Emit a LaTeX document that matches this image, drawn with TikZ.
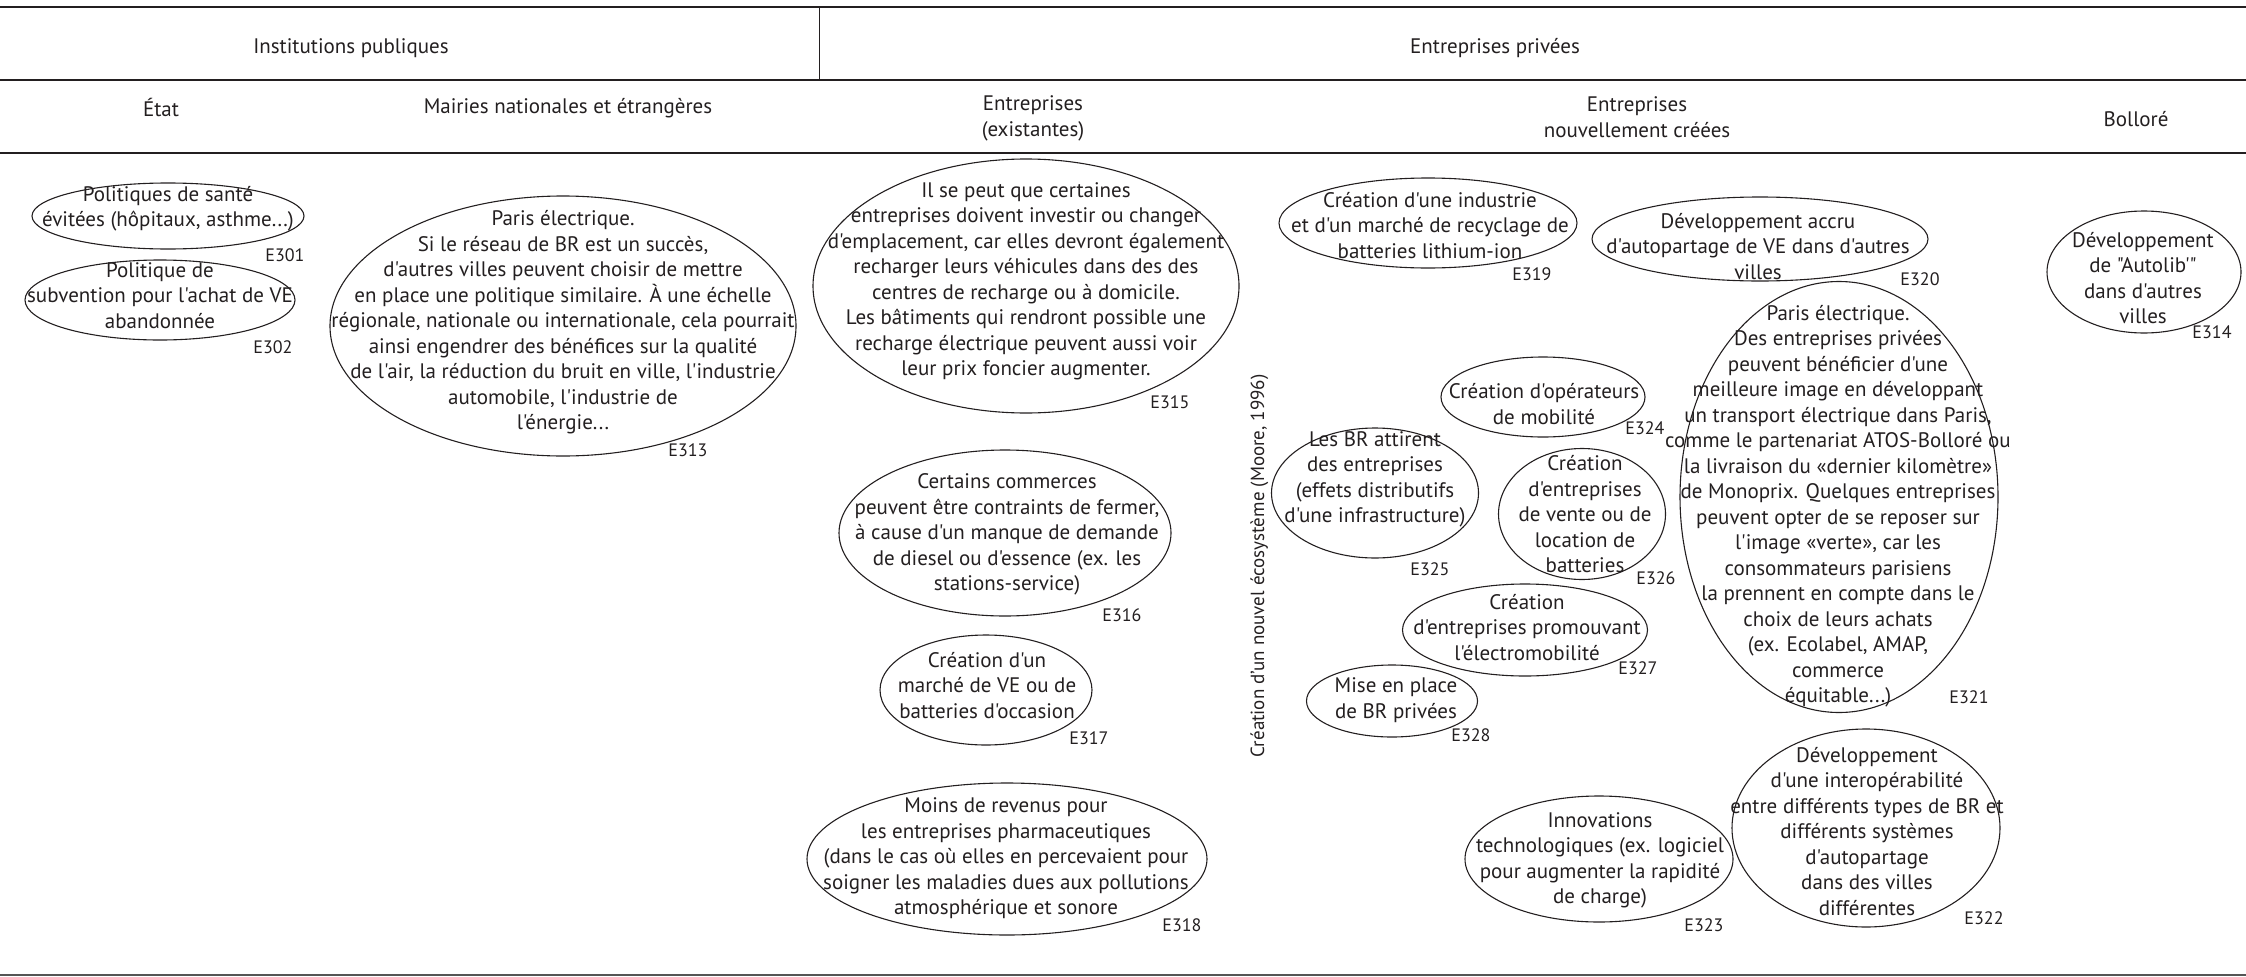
\documentclass[tikz,border=0pt]{standalone}
\usepackage{fontspec}
\setmainfont{PT Sans}[Ligatures=TeXOff]
\usetikzlibrary{shapes.geometric}
\definecolor{ink}{HTML}{231F20}
\definecolor{rulegray}{HTML}{555555}
\newcommand\ellnode[5]{\node[ell,minimum width=#4pt,minimum height=#5pt] (#1) at (#2,#3) {};}
\begin{document}
\begin{tikzpicture}[x=1pt,y=-1pt,
  ell/.style={draw=ink, line width=1.1pt, ellipse, inner sep=0pt},
  txt/.style={font=\fontsize{21}{25.5}\selectfont, text=ink, align=center, inner sep=0pt,
    execute at begin node=\strut, execute at end node=\strut},
  vtxt/.style={font=\fontsize{19}{25.5}\selectfont},
  lab/.style={font=\fontsize{18}{20}\selectfont, text=ink, inner sep=0pt},
  hrule/.style={draw=ink, line width=1.8pt},
  vrule/.style={draw=ink, line width=1pt},
  brule/.style={draw=rulegray, line width=1.4pt}]
\useasboundingbox (0,0) rectangle (2246,977);
% rules
\coordinate (r1a) at (0,7);   \coordinate (r1b) at (2246,7);
\coordinate (r2a) at (0,80);  \coordinate (r2b) at (2246,80);
\coordinate (r3a) at (0,153); \coordinate (r3b) at (2246,153);
\coordinate (r4a) at (0,975); \coordinate (r4b) at (2246,975);
\coordinate (va) at (819,7);  \coordinate (vb) at (819,80);
\draw[hrule] (r1a) -- (r1b);
\draw[hrule] (r2a) -- (r2b);
\draw[hrule] (r3a) -- (r3b);
\draw[brule] (r4a) -- (r4b);
\draw[vrule] (va) -- (vb);
% headers
\node[txt] (hpub) at (351,48) {Institutions publiques};
\node[txt] (hpriv) at (1495,48) {Entreprises privées};
\node[txt] (hetat) at (161,111) {État};
\node[txt] (hmair) at (568,108) {Mairies nationales et étrangères};
\node[txt] (hexist) at (1033,120) {Entreprises\\(existantes)};
\node[txt] (hnouv) at (1637,121) {Entreprises\\nouvellement créées};
\node[txt] (hboll) at (2136,121) {Bolloré};
% vertical text
\node[txt, vtxt, rotate=90] (eco) at (1259,566) {Création d’un nouvel écosystème (Moore, 1996)};
% ellipses
\ellnode{e301}{168}{216}{272}{66}
\ellnode{e302}{160}{300}{270}{80}
\ellnode{e313}{563}{326}{466}{260}
\ellnode{e315}{1026}{286}{426}{254}
\ellnode{e316}{1005}{533}{332}{166}
\ellnode{e317}{986}{690}{212}{110}
\ellnode{e318}{1007}{859}{400}{152}
\ellnode{e319}{1428}{223}{298}{90}
\ellnode{e320}{1760}{239}{336}{84}
\ellnode{e314}{2144}{272}{194}{122}
\ellnode{e321}{1839}{497}{318}{431}
\ellnode{e322}{1866}{828}{268}{198}
\ellnode{e323}{1599}{859}{268}{126}
\ellnode{e324}{1543}{397}{204}{80}
\ellnode{e325}{1375}{493}{207}{130}
\ellnode{e326}{1582}{514}{167}{131}
\ellnode{e327}{1525}{630}{245}{92}
\ellnode{e328}{1392}{701}{171}{72}
% ellipse texts
\node[txt] (t301) at (168,210.5) {Politiques de santé\\évitées (hôpitaux, asthme...)};
\node[txt] (t302) at (160,299) {Politique de\\subvention pour l'achat de VE\\abandonnée};
\node[txt] (t313) at (563,324) {Paris électrique.\\Si le réseau de BR est un succès,\\d'autres villes peuvent choisir de mettre\\en place une politique similaire. À une échelle\\régionale, nationale ou internationale, cela pourrait\\ainsi engendrer des bénéfices sur la qualité\\de l'air, la réduction du bruit en ville, l'industrie\\automobile, l'industrie de\\l'énergie...};
\node[txt] (t315) at (1026,283) {Il se peut que certaines\\entreprises doivent investir ou changer\\d'emplacement, car elles devront également\\recharger leurs véhicules dans des des\\centres de recharge ou à domicile.\\Les bâtiments qui rendront possible une\\recharge électrique peuvent aussi voir\\leur prix foncier augmenter.};
\node[txt] (t316) at (1007,536) {Certains commerces\\peuvent être contraints de fermer,\\à cause d'un manque de demande\\de diesel ou d'essence (ex. les\\stations-service)};
\node[txt] (t317) at (987,689) {Création d'un\\marché de VE ou de\\batteries d'occasion};
\node[txt] (t318) at (1006,860) {Moins de revenus pour\\les entreprises pharmaceutiques\\(dans le cas où elles en percevaient pour\\soigner les maladies dues aux pollutions\\atmosphérique et sonore};
\node[txt] (t319) at (1430,229) {Création d'une industrie\\et d'un marché de recyclage de\\batteries lithium-ion};
\node[txt] (t320) at (1758,250) {Développement accru\\d'autopartage de VE dans d'autres\\villes};
\node[txt] (t314) at (2143,282) {Développement\\de "Autolib'"\\dans d'autres\\villes};
\node[txt] (t321) at (1838,508) {Paris électrique.\\Des entreprises privées\\peuvent bénéficier d'une\\meilleure image en développant\\un transport électrique dans Paris,\\comme le partenariat ATOS-Bolloré ou\\la livraison du «dernier kilomètre»\\de Monoprix. Quelques entreprises\\peuvent opter de se reposer sur\\l'image «verte», car les\\consommateurs parisiens\\la prennent en compte dans le\\choix de leurs achats\\(ex. Ecolabel, AMAP,\\commerce\\équitable...)};
\node[txt] (t322) at (1867,835) {Développement\\d'une interopérabilité\\entre différents types de BR et\\différents systèmes\\d'autopartage\\dans des villes\\différentes};
\node[txt] (t323) at (1600,862) {Innovations\\technologiques (ex. logiciel\\pour augmenter la rapidité\\de charge)};
\node[txt] (t324) at (1544,408) {Création d'opérateurs\\de mobilité};
\node[txt] (t325) at (1375,481) {Les BR attirent\\des entreprises\\(effets distributifs\\d'une infrastructure)};
\node[txt] (t326) at (1585,518) {Création\\d'entreprises\\de vente ou de\\location de\\batteries};
\node[txt] (t327) at (1527,631) {Création\\d'entreprises promouvant\\l'électromobilité};
\node[txt] (t328) at (1396,702) {Mise en place\\de BR privées};
% labels
\node[lab] (l301) at (285,255) {E301};
\node[lab] (l302) at (273,347) {E302};
\node[lab] (l313) at (688,450) {E313};
\node[lab] (l315) at (1170,402) {E315};
\node[lab] (l316) at (1122,615) {E316};
\node[lab] (l317) at (1089,738) {E317};
\node[lab] (l318) at (1182,925) {E318};
\node[lab] (l319) at (1532,274) {E319};
\node[lab] (l320) at (1920,279) {E320};
\node[lab] (l314) at (2212,332) {E314};
\node[lab] (l321) at (1969,697) {E321};
\node[lab] (l322) at (1984,918) {E322};
\node[lab] (l323) at (1704,925) {E323};
\node[lab] (l324) at (1645,428) {E324};
\node[lab] (l325) at (1430,569) {E325};
\node[lab] (l326) at (1656,578) {E326};
\node[lab] (l327) at (1638,668) {E327};
\node[lab] (l328) at (1471,735) {E328};
\end{tikzpicture}
\end{document}
